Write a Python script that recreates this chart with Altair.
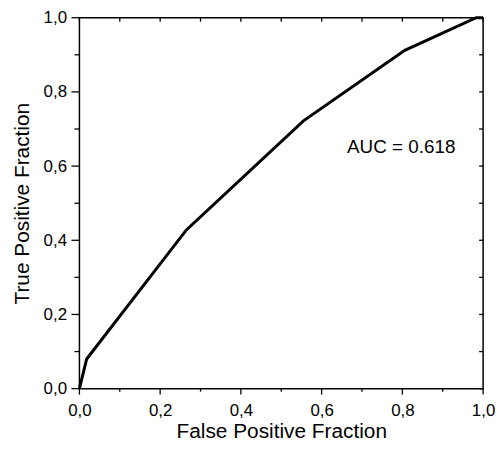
import altair as alt
import pandas as pd

fpf = [0.0, 0.018, 0.265, 0.555, 0.806, 0.983, 1.0]
tpf = [0.0, 0.080, 0.428, 0.722, 0.912, 1.0, 1.0]
major_ticks = [0.0, 0.2, 0.4, 0.6, 0.8, 1.0]
minor_ticks = [0.1, 0.3, 0.5, 0.7, 0.9]
all_ticks = [0.0, 0.1, 0.2, 0.3, 0.4, 0.5, 0.6, 0.7, 0.8, 0.9, 1.0]
auc_label = ["AUC = 0.618"]
auc_x = [0.663]
auc_y = [0.652]

W, H = 407, 374

df = pd.DataFrame({"fpf": fpf, "tpf": tpf})
df_txt = pd.DataFrame({"x": auc_x, "y": auc_y, "t": auc_label})
df_major = pd.DataFrame({"v": major_ticks})
df_minor = pd.DataFrame({"v": minor_ticks})
df_all = pd.DataFrame({"v": all_ticks})

FONT = "Liberation Sans"
lab = "replace(format(datum.value, '.1f'), '.', ',')"
xs = alt.Scale(domain=[0, 1], nice=False, zero=False)
ys = alt.Scale(domain=[0, 1], nice=False, zero=False)

common = dict(domain=False, grid=False, ticks=False, labelFont=FONT, titleFont=FONT,
              labelColor="black", titleColor="black", labelFlush=False,
              labelFontSize=17, titleFontSize=21, titleFontWeight="normal",
              labelExpr=lab, values=major_ticks)

x_axis = alt.Axis(orient="bottom", labelPadding=14, title="False Positive Fraction",
                  titleBaseline="alphabetic", titleY=49, **common)
y_axis = alt.Axis(orient="left", labelPadding=13, title="True Positive Fraction",
                  titleBaseline="middle", titleX=-57, titleAngle=270, **common)

line = alt.Chart(df).mark_line(color="black", strokeWidth=3).encode(
    x=alt.X("fpf:Q", scale=xs, axis=x_axis),
    y=alt.Y("tpf:Q", scale=ys, axis=y_axis),
)

tick_style = dict(color="black", strokeWidth=1.3, opacity=1)

bx_major = alt.Chart(df_major).mark_rule(**tick_style).encode(
    x=alt.X("v:Q", scale=xs), y=alt.value(H), y2=alt.value(H + 6))
bx_minor = alt.Chart(df_minor).mark_rule(**tick_style).encode(
    x=alt.X("v:Q", scale=xs), y=alt.value(H), y2=alt.value(H + 3))
ly_major = alt.Chart(df_major).mark_rule(**tick_style).encode(
    y=alt.Y("v:Q", scale=ys), x=alt.value(-8), x2=alt.value(0))
ly_minor = alt.Chart(df_minor).mark_rule(**tick_style).encode(
    y=alt.Y("v:Q", scale=ys), x=alt.value(-5), x2=alt.value(0))
tx_all = alt.Chart(df_all).mark_rule(**tick_style).encode(
    x=alt.X("v:Q", scale=xs), y=alt.value(0), y2=alt.value(4))
ry_all = alt.Chart(df_all).mark_rule(**tick_style).encode(
    y=alt.Y("v:Q", scale=ys), x=alt.value(W - 4), x2=alt.value(W))

text = alt.Chart(df_txt).mark_text(align="left", baseline="middle", font=FONT,
                                   fontSize=19, color="black").encode(
    x=alt.X("x:Q", scale=xs),
    y=alt.Y("y:Q", scale=ys),
    text="t:N",
)

chart = alt.layer(line, bx_major, bx_minor, ly_major, ly_minor, tx_all, ry_all, text).properties(
    width=W, height=H,
    autosize=alt.AutoSizeParams(type="none"),
    padding={"left": 72, "top": 8, "right": 12, "bottom": 53},
    background="white",
).configure_view(stroke="black", strokeWidth=1.5)

chart.save("out.html", embed_options={"renderer": "svg", "actions": False})
